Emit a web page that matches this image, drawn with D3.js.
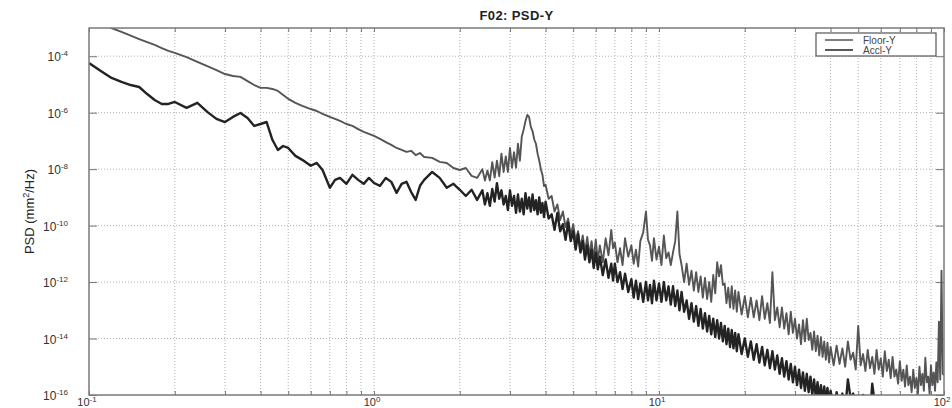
<!DOCTYPE html>
<html>
<head>
<meta charset="utf-8">
<script src="https://cdn.jsdelivr.net/npm/d3@7"></script>
<style>
  body { margin: 0; background: #fff; }
  svg { font-family: "Liberation Sans", Arial, sans-serif; }
</style>
</head>
<body>
<div id="chart"></div>
<script>
const width = 952
const height = 408
const margin = { top: 28, right: 8, bottom: 13, left: 89 }

// frequency bins (Hz), finer above 2.4 Hz where the spectra get noisy
const freqHz = [
  0.1, 0.11, 0.12, 0.13, 0.14, 0.15, 0.16, 0.17, 0.18, 0.19,
  0.2, 0.22, 0.24, 0.26, 0.28, 0.3, 0.32, 0.34, 0.36, 0.38,
  0.4, 0.42, 0.44, 0.46, 0.48, 0.5, 0.53, 0.56, 0.6, 0.63,
  0.66, 0.7, 0.73, 0.76, 0.8, 0.84, 0.88, 0.92, 0.96, 1.0,
  1.05, 1.1, 1.15, 1.2, 1.25, 1.3, 1.35, 1.4, 1.45, 1.5,
  1.6, 1.7, 1.8, 1.9, 2.0, 2.1, 2.2, 2.3,
  2.4, 2.45, 2.5, 2.55, 2.6, 2.65, 2.7, 2.75, 2.8, 2.85,
  2.9, 2.95, 3.0, 3.05, 3.1, 3.15, 3.2, 3.25, 3.3, 3.35,
  3.4, 3.45, 3.5, 3.55, 3.6, 3.65, 3.7, 3.75, 3.8, 3.85,
  3.9, 3.95, 4.0, 4.1, 4.2, 4.3, 4.4, 4.5, 4.6, 4.7,
  4.8, 4.9, 5.0, 5.1, 5.2, 5.3, 5.4, 5.5, 5.6, 5.7,
  5.8, 5.9, 6.0, 6.1, 6.2, 6.35, 6.5, 6.65, 6.8, 6.9,
  7.0, 7.15, 7.3, 7.45, 7.6, 7.8, 8.0, 8.15, 8.3, 8.45,
  8.6, 8.8, 9.0, 9.15, 9.3, 9.45, 9.6, 9.8, 10, 10.2,
  10.4, 10.6, 10.8, 11.0, 11.2, 11.4, 11.6, 11.8, 12, 12.25,
  12.5, 12.75, 13, 13.25, 13.5, 13.75, 14, 14.25, 14.5, 14.75,
  15, 15.25, 15.5, 15.75, 16, 16.25, 16.5, 16.75, 17, 17.25,
  17.5, 17.75, 18, 18.25, 18.5, 18.75, 19, 19.5, 20, 20.5,
  21, 21.5, 22, 22.5, 23, 23.5, 24, 24.5, 25, 25.5,
  26, 26.5, 27, 27.5, 28, 28.5, 29, 29.5, 30, 30.5,
  31, 31.5, 32, 32.5, 33, 33.5, 34, 34.5, 35, 35.5,
  36, 36.5, 37, 37.5, 38, 38.5, 39, 39.5, 40, 41,
  42, 43, 44, 45, 46, 47, 48, 49, 50, 51,
  52, 53, 54, 55, 56, 57, 58, 59, 60, 61,
  62, 63, 64, 65, 66, 67, 68, 69, 70, 71,
  72, 73, 74, 75, 76, 77, 78, 79, 80, 81,
  82, 83, 84, 85, 86, 87, 88, 89, 90, 91,
  92, 93, 94, 95, 96, 97, 98, 99, 100
]

// PSD as power of ten (mm^2/Hz)
const floorY = [
  -2.68, -2.84, -3.0, -3.14, -3.27, -3.39, -3.50, -3.60, -3.71, -3.81,
  -3.88, -4.03, -4.20, -4.35, -4.49, -4.63, -4.70, -4.73, -4.88, -5.02,
  -5.12, -5.12, -5.16, -5.23, -5.37, -5.51, -5.65, -5.76, -5.87, -5.94,
  -6.04, -6.15, -6.22, -6.29, -6.40, -6.47, -6.58, -6.68, -6.75, -6.82,
  -6.93, -7.04, -7.14, -7.25, -7.32, -7.39, -7.35, -7.50, -7.43, -7.57,
  -7.60, -7.74, -7.78, -7.96, -8.03, -7.96, -8.24, -8.31,
  -8.0, -8.4, -8.05, -8.4, -7.75, -8.3, -7.7, -8.25, -7.45, -8.1,
  -7.55, -8.1, -7.25, -7.95, -7.4, -7.95, -7.1, -7.7, -6.85, -6.6,
  -6.3, -6.08, -6.15, -6.5, -6.65, -6.95, -7.1, -7.45, -7.7, -8.0,
  -8.2, -8.6, -8.55, -9.05, -8.95, -9.5, -9.25, -9.8, -9.5, -10.05,
  -9.75, -10.35, -9.95, -10.55, -10.2, -10.8, -10.35, -10.95, -10.4, -11.05,
  -10.55, -11.2, -10.5, -11.25, -10.7, -11.3, -10.45, -11.05, -10.15, -10.8,
  -10.6, -11.3, -10.8, -11.4, -10.45, -11.1, -10.7, -11.35, -10.85, -11.45,
  -10.55, -10.25, -9.5, -10.5, -10.7, -11.25, -10.45, -11.2, -10.75, -11.4,
  -10.35, -11.15, -10.95, -11.4, -10.95, -10.55, -9.5, -11.0, -11.4, -12.0,
  -11.35, -12.1, -11.6, -12.3, -11.65, -12.35, -11.8, -12.55, -11.85, -12.6,
  -12.0, -12.7, -11.75, -12.4, -11.3, -11.8, -11.4, -12.1, -12.05, -12.75,
  -12.2, -12.9, -12.15, -12.95, -12.3, -13.05, -12.35, -13.15, -12.5, -13.25,
  -12.55, -13.25, -12.65, -13.35, -12.5, -13.3, -12.75, -13.45, -11.65, -13.35,
  -12.9, -13.6, -12.9, -13.65, -13.1, -13.85, -13.05, -13.8, -13.3, -14.0,
  -13.5, -14.2, -13.35, -14.1, -13.3, -14.05, -13.8, -14.4, -13.75, -14.45,
  -13.9, -14.6, -13.95, -14.65, -14.1, -14.75, -14.15, -14.85, -14.3, -14.95,
  -14.25, -14.9, -14.35, -15.0, -14.1, -14.75, -14.5, -15.1, -13.55, -14.95,
  -14.55, -15.15, -14.4, -15.05, -14.65, -15.25, -14.4, -15.1, -14.7, -15.35,
  -14.45, -15.15, -14.75, -15.4, -14.65, -15.35, -15.1, -15.6, -14.8, -15.5,
  -15.1, -15.7, -14.95, -15.65, -15.35, -15.9, -15.1, -15.75, -15.4, -15.95,
  -15.0, -15.65, -15.25, -15.85, -14.68, -15.55, -15.35, -15.95, -14.95, -15.65,
  -15.2, -15.85, -14.85, -15.55, -13.4, -15.45, -11.6, -15.25, -15.3
]

const acclY = [
  -4.24, -4.52, -4.77, -4.91, -5.02, -5.09, -5.34, -5.55, -5.69, -5.69,
  -5.62, -5.83, -5.65, -5.97, -6.22, -6.33, -6.15, -6.01, -6.19, -6.47,
  -6.40, -6.33, -6.96, -7.32, -7.18, -7.25, -7.53, -7.67, -7.88, -7.78,
  -8.03, -8.66, -8.38, -8.31, -8.52, -8.20, -8.38, -8.52, -8.31, -8.49,
  -8.59, -8.31, -8.45, -8.84, -8.52, -8.45, -8.81, -9.09, -8.59, -8.38,
  -8.10, -8.31, -8.66, -8.52, -8.73, -8.95, -8.73, -9.09,
  -8.75, -9.25, -8.85, -9.3, -8.7, -9.15, -8.5, -9.05, -8.75, -9.25,
  -8.95, -9.45, -8.75, -9.3, -8.95, -9.55, -8.9, -9.5, -9.05, -9.6,
  -8.85, -9.4, -9.0, -9.5, -8.9, -9.45, -9.1, -9.6, -9.0, -9.55,
  -9.2, -9.7, -9.15, -9.75, -9.6, -10.15, -9.55, -10.2, -9.95, -10.5,
  -9.9, -10.55, -10.2, -10.85, -10.3, -10.95, -10.55, -11.2, -10.7, -11.3,
  -10.85, -11.5, -10.95, -11.55, -11.1, -11.75, -11.2, -11.85, -11.35, -11.95,
  -11.35, -12.0, -11.65, -12.25, -11.7, -12.35, -11.9, -12.55, -11.95, -12.6,
  -12.05, -12.7, -12.0, -12.65, -12.1, -12.75, -11.95, -12.65, -12.05, -12.7,
  -12.0, -12.65, -12.15, -12.8, -12.15, -12.85, -12.3, -13.0, -12.35, -13.05,
  -12.65, -13.3, -12.75, -13.4, -12.85, -13.55, -12.95, -13.65, -13.1, -13.75,
  -13.2, -13.85, -13.3, -13.95, -13.35, -14.0, -13.45, -14.1, -13.55, -14.2,
  -13.65, -14.3, -13.7, -14.35, -13.8, -14.45, -13.85, -14.55, -14.0, -14.65,
  -14.1, -14.75, -14.2, -14.85, -14.3, -14.95, -14.4, -15.05, -14.45, -15.1,
  -14.6, -15.25, -14.7, -15.35, -14.8, -15.45, -14.9, -15.55, -15.0, -15.65,
  -15.1, -15.75, -15.2, -15.85, -15.25, -15.9, -15.35, -16.0, -15.45, -16.1,
  -15.55, -16.2, -15.65, -16.25, -15.7, -16.3, -15.75, -16.35, -15.85, -16.45,
  -15.9, -16.5, -15.95, -16.55, -15.45, -16.1, -15.95, -16.55, -16.05, -16.65,
  -16.0, -16.65, -16.15, -16.75, -15.6, -16.2, -16.05, -16.65, -16.25, -16.85,
  -16.35, -16.7, -16.5, -16.8, -16.45, -16.8, -16.6, -16.9, -16.7, -17.0,
  -16.8, -17.0, -16.85, -17.1, -16.9, -17.1, -17.0, -17.2, -16.95, -17.2,
  -17.0, -17.2, -17.1, -17.3, -17.05, -17.3, -17.1, -17.3, -17.2, -17.4,
  -17.2, -17.4, -17.3, -17.4, -17.3, -17.5, -17.4, -17.5, -17.5
]

const seriesNames = ["Floor-Y", "Accl-Y"]
const seriesColors = ["#555555", "#232323"]
const yTickExp = [-4, -6, -8, -10, -12, -14, -16]
const xTickExp = [-1, 0, 1, 2]

const x = d3.scaleLog().domain([0.1, 100]).range([margin.left, width - margin.right])
const y = d3.scaleLog().domain([1e-16, 1e-3]).range([height - margin.bottom, margin.top])

const svg = d3.select("#chart")
    .append("svg")
    .attr("width", width)
    .attr("height", height)

svg.append("defs").append("clipPath")
    .attr("id", "plot-clip")
    .append("rect")
    .attr("x", margin.left)
    .attr("y", margin.top)
    .attr("width", width - margin.left - margin.right)
    .attr("height", height - margin.top - margin.bottom)

// minor + major x grid (1..9 per decade)
const xGrid = []
for (let d = -1; d < 2; d++) {
    for (let k = 1; k < 10; k++) xGrid.push(k * Math.pow(10, d))
}
xGrid.push(100)

svg.append("g")
    .selectAll("line")
    .data(xGrid.slice(1, -1))
    .enter()
    .append("line")
    .attr("x1", d => x(d))
    .attr("x2", d => x(d))
    .attr("y1", margin.top)
    .attr("y2", height - margin.bottom)
    .style("stroke", "#b0b0b0")
    .style("stroke-width", 1)
    .style("stroke-dasharray", "1,2")

svg.append("g")
    .selectAll("line")
    .data(yTickExp.slice(0, -1))
    .enter()
    .append("line")
    .attr("x1", margin.left)
    .attr("x2", width - margin.right)
    .attr("y1", d => y(Math.pow(10, d)))
    .attr("y2", d => y(Math.pow(10, d)))
    .style("stroke", "#b0b0b0")
    .style("stroke-width", 1)
    .style("stroke-dasharray", "1,2")

// inward ticks on all four sides
const tickStyle = g => {
    g.select(".domain").remove()
    g.selectAll(".tick line").style("stroke", "#777")
}
svg.append("g")
    .attr("transform", `translate(0,${height - margin.bottom})`)
    .call(d3.axisBottom(x).tickValues(xGrid).tickSize(-4).tickFormat(""))
    .call(tickStyle)
svg.append("g")
    .attr("transform", `translate(0,${margin.top})`)
    .call(d3.axisTop(x).tickValues(xGrid).tickSize(-4).tickFormat(""))
    .call(tickStyle)
const yTickVals = yTickExp.map(e => Math.pow(10, e))
svg.append("g")
    .attr("transform", `translate(${margin.left},0)`)
    .call(d3.axisLeft(y).tickValues(yTickVals).tickSize(-8).tickFormat(""))
    .call(tickStyle)
svg.append("g")
    .attr("transform", `translate(${width - margin.right},0)`)
    .call(d3.axisRight(y).tickValues(yTickVals).tickSize(-8).tickFormat(""))
    .call(tickStyle)

// curves
const line = d3.line()
    .defined(d => d[1] !== undefined)
    .x(d => x(d[0]))
    .y(d => y(Math.pow(10, d[1])))

const series = [floorY, acclY].map(vals => freqHz.map((f, i) => [f, vals[i]]))

svg.append("g")
    .attr("clip-path", "url(#plot-clip)")
    .selectAll("path")
    .data(series)
    .enter()
    .append("path")
    .attr("d", line)
    .style("fill", "none")
    .style("stroke", (d, i) => seriesColors[i])
    .style("stroke-width", (d, i) => i === 0 ? 1.9 : 2.4)
    .style("stroke-linejoin", "round")

// frame
svg.append("rect")
    .attr("x", margin.left)
    .attr("y", margin.top)
    .attr("width", width - margin.left - margin.right)
    .attr("height", height - margin.top - margin.bottom)
    .style("fill", "none")
    .style("stroke", "#7a7a7a")
    .style("stroke-width", 1.5)

// tick labels as 10^n
const yLabels = svg.append("g")
    .selectAll("text")
    .data(yTickExp)
    .enter()
    .append("text")
    .attr("x", margin.left - 21)
    .attr("y", d => y(Math.pow(10, d)) + 5)
    .attr("text-anchor", "end")
    .style("font-size", "12px")
    .style("fill", "#333")
yLabels.append("tspan").text("10")
yLabels.append("tspan").attr("dy", -5).style("font-size", "8px").text(d => "-" + Math.abs(d))

const xLabels = svg.append("g")
    .selectAll("text")
    .data(xTickExp)
    .enter()
    .append("text")
    .attr("x", d => x(Math.pow(10, d)) - 2)
    .attr("y", 406)
    .attr("text-anchor", "middle")
    .style("font-size", "11px")
    .style("fill", "#333")
xLabels.append("tspan").text("10")
xLabels.append("tspan").attr("dy", -4).style("font-size", "8px").text(d => d < 0 ? "-" + Math.abs(d) : d)

// title and axis label
svg.append("text")
    .attr("x", (margin.left + width - margin.right) / 2)
    .attr("y", 20)
    .attr("text-anchor", "middle")
    .style("font-size", "13px")
    .style("font-weight", "bold")
    .style("letter-spacing", "0.4px")
    .style("fill", "#222")
    .text("F02: PSD-Y")

const yTitle = svg.append("text")
    .attr("transform", `translate(34,${(margin.top + height - margin.bottom) / 2}) rotate(-90)`)
    .attr("text-anchor", "middle")
    .style("font-size", "13px")
    .style("fill", "#222")
yTitle.append("tspan").text("PSD (mm")
yTitle.append("tspan").attr("dy", -5).style("font-size", "9px").text("2")
yTitle.append("tspan").attr("dy", 5).text("/Hz)")

// legend
const legend = svg.append("g").attr("transform", "translate(816,33)")
legend.append("rect")
    .attr("width", 120)
    .attr("height", 23)
    .style("fill", "#fff")
    .style("stroke", "#555")
    .style("stroke-width", 1.2)
const items = legend.selectAll("g")
    .data(seriesNames)
    .enter()
    .append("g")
    .attr("transform", (d, i) => `translate(0,${7 + i * 10})`)
items.append("line")
    .attr("x1", 9)
    .attr("x2", 37)
    .style("stroke", (d, i) => seriesColors[i])
    .style("stroke-width", 1.5)
items.append("text")
    .attr("x", 47)
    .attr("y", 4)
    .style("font-size", "10px")
    .style("fill", "#444")
    .text(d => d)
</script>
</body>
</html>
